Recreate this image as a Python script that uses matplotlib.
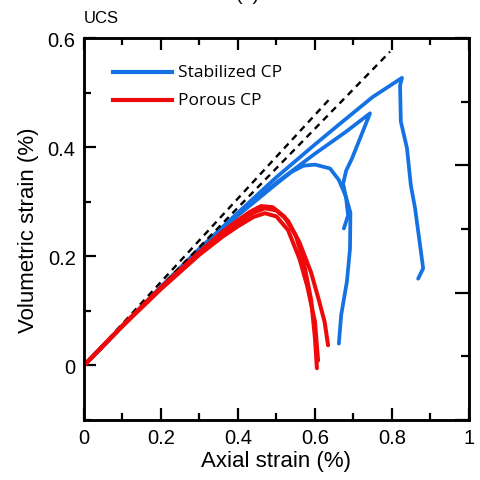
import matplotlib
matplotlib.use("Agg")
import matplotlib.pyplot as plt
from matplotlib.ticker import MultipleLocator, NullFormatter

plt.rcParams['font.family'] = ['Liberation Sans', 'DejaVu Sans']

# --- data (axial %, volumetric %) ---
# Stabilized CP (blue), three tests
stab1_x = [0, 0.1, 0.2, 0.3, 0.4, 0.5, 0.6, 0.665, 0.75, 0.826,
           0.821, 0.823, 0.839, 0.849, 0.860, 0.873, 0.881, 0.868]
stab1_y = [0, 0.072, 0.144, 0.214, 0.280, 0.345, 0.405, 0.443, 0.492, 0.527,
           0.513, 0.447, 0.398, 0.330, 0.288, 0.220, 0.178, 0.159]
stab2_x = [0, 0.1, 0.2, 0.3, 0.4, 0.5, 0.6, 0.68, 0.743,
           0.717, 0.696, 0.681, 0.673, 0.681, 0.686, 0.675]
stab2_y = [0, 0.072, 0.144, 0.213, 0.277, 0.335, 0.388, 0.428, 0.462,
           0.416, 0.379, 0.357, 0.333, 0.306, 0.275, 0.251]
stab3_x = [0, 0.1, 0.2, 0.3, 0.4, 0.5, 0.54, 0.57, 0.6, 0.639, 0.662,
           0.68, 0.692, 0.691, 0.683, 0.668, 0.662]
stab3_y = [0, 0.072, 0.143, 0.212, 0.275, 0.333, 0.355, 0.366, 0.368, 0.361, 0.340,
           0.310, 0.280, 0.214, 0.154, 0.092, 0.040]

# Porous CP (red), three tests
por1_x = [0, 0.1, 0.2, 0.3, 0.36, 0.4, 0.44, 0.47, 0.50, 0.53, 0.56, 0.59, 0.61, 0.625, 0.634]
por1_y = [0, 0.073, 0.142, 0.206, 0.240, 0.262, 0.280, 0.288, 0.284, 0.265, 0.225, 0.170, 0.120, 0.080, 0.037]
por2_x = [0, 0.1, 0.2, 0.3, 0.36, 0.4, 0.44, 0.47, 0.50, 0.53, 0.56, 0.58, 0.60, 0.608]
por2_y = [0, 0.072, 0.140, 0.203, 0.236, 0.255, 0.272, 0.279, 0.273, 0.248, 0.195, 0.145, 0.080, 0.009]
por3_x = [0, 0.1, 0.2, 0.3, 0.36, 0.4, 0.43, 0.46, 0.49, 0.52, 0.55, 0.57, 0.59, 0.60, 0.605]
por3_y = [0, 0.073, 0.143, 0.208, 0.245, 0.266, 0.281, 0.292, 0.290, 0.273, 0.238, 0.192, 0.120, 0.050, -0.005]

# elastic reference lines
ref1_x = [0, 0.795]
ref1_y = [0, 0.575]
ref2_x = [0, 0.639]
ref2_y = [0, 0.489]

blue = '#1472e3'
red = '#ee0a0a'

fig = plt.figure(figsize=(4.81, 4.81), dpi=100)
ax = fig.add_axes([0.1746, 0.1247, 0.8004, 0.7942])

ax.plot(ref1_x, ref1_y, color='black', lw=1.7, ls=(0, (2.8, 2.2)), zorder=3)
ax.plot(ref2_x, ref2_y, color='black', lw=1.7, ls=(0, (2.8, 2.2)), zorder=3)

for xs, ys in [(stab1_x, stab1_y), (stab2_x, stab2_y), (stab3_x, stab3_y)]:
    ax.plot(xs, ys, color=blue, lw=2.7, solid_joinstyle='round', solid_capstyle='round', zorder=2)
for xs, ys in [(por1_x, por1_y), (por2_x, por2_y), (por3_x, por3_y)]:
    ax.plot(xs, ys, color=red, lw=2.9, solid_joinstyle='round', solid_capstyle='round', zorder=4)

# legend drawn as plain lines + text
ax.plot([0.075, 0.229], [0.538, 0.538], color=blue, lw=3.0)
ax.plot([0.075, 0.229], [0.487, 0.487], color=red, lw=3.0)
ax.text(0.245, 0.538, 'Stabilized CP', fontsize=12.5, va='center', family=['Open Sans', 'DejaVu Sans'])
ax.text(0.245, 0.487, 'Porous CP', fontsize=12.5, va='center', family=['Open Sans', 'DejaVu Sans'])

ax.set_xlim(0, 1)
ax.set_ylim(-0.1, 0.6)
ax.xaxis.set_major_locator(MultipleLocator(0.2))
ax.xaxis.set_minor_locator(MultipleLocator(0.1))
ax.yaxis.set_major_locator(MultipleLocator(0.2))
ax.yaxis.set_minor_locator(MultipleLocator(0.1))
ax.xaxis.set_major_formatter(plt.FuncFormatter(lambda v, p: '%g' % round(v, 1)))
ax.yaxis.set_major_formatter(plt.FuncFormatter(lambda v, p: '%g' % round(v, 1)))
ax.tick_params(which='both', direction='in', width=1.6, labelsize=14.5, top=True, right=False)
ax.tick_params(which='major', length=8.5, pad=6)
ax.tick_params(which='minor', length=5)
ax.set_xlabel('Axial strain (%)', fontsize=16, labelpad=2)
ax.set_ylabel('Volumetric strain (%)', fontsize=16, labelpad=6)
for s in ax.spines.values():
    s.set_linewidth(1.8)

# right axis with its own tick spacing
ax2 = ax.twinx()
ax2.set_ylim(0, 6)
ax2.yaxis.set_major_locator(MultipleLocator(2))
ax2.yaxis.set_minor_locator(MultipleLocator(1))
ax2.yaxis.set_major_formatter(NullFormatter())
ax2.tick_params(which='both', direction='in', width=1.6)
ax2.tick_params(which='major', length=10)
ax2.tick_params(which='minor', length=5.5)
for s in ax2.spines.values():
    s.set_linewidth(1.8)

fig.text(0.1746, 0.962, 'UCS', fontsize=12, va='center')
fig.text(0.515, 1 - 4 / 481, '(a)', fontsize=14, va='bottom', ha='center')

fig.savefig('out.png', dpi=100)
